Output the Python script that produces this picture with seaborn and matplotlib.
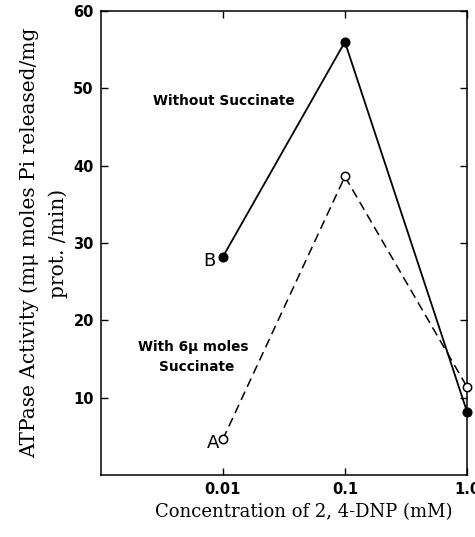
import matplotlib
matplotlib.use("Agg")
import matplotlib.pyplot as plt
import seaborn as sns
import pandas as pd

conc = [0.01, 0.1, 1.0]
without_succ = [28.2, 56.0, 8.2]
with_succ = [4.6, 38.6, 11.4]
xtick_vals = [0.01, 0.1, 1.0]
xtick_labels = ["0.01", "0.1", "1.0"]
ytick_vals = [10, 20, 30, 40, 50, 60]

sns.set_theme(style="ticks")
plt.rcParams['font.family'] = ['DejaVu Sans']
plt.rcParams.update({"text.color": "black", "axes.labelcolor": "black",
                     "xtick.color": "black", "ytick.color": "black"})

fig = plt.figure(figsize=(4.75, 5.37), dpi=100)
ax = fig.add_axes([100.7/475, 1 - 475/537, (467-100.7)/475, (475-11)/537])

df_b = pd.DataFrame({"conc": conc, "act": without_succ})
df_a = pd.DataFrame({"conc": conc, "act": with_succ})

sns.lineplot(data=df_b, x="conc", y="act", ax=ax, color="black", lw=1.3,
             marker="o", markersize=6.5, markerfacecolor="black",
             markeredgecolor="black", clip_on=False, zorder=3)
sns.lineplot(data=df_a, x="conc", y="act", ax=ax, color="black", lw=1.1,
             linestyle=(0, (6, 3.5)), marker="o", markersize=6,
             markerfacecolor="white", markeredgecolor="black",
             markeredgewidth=1.1, clip_on=False, zorder=3)

ax.set_xscale("log")
ax.set_xlim(0.001, 1.0)
ax.set_ylim(0, 60)
ax.set_xticks(xtick_vals)
ax.set_xticklabels(xtick_labels)
ax.xaxis.set_minor_locator(matplotlib.ticker.NullLocator())
ax.set_yticks(ytick_vals)
ax.set_yticklabels([str(v) for v in ytick_vals])
ax.tick_params(direction="in", length=5, width=1.0, top=True, right=True,
               labelsize=10.5, pad=5)
for lab in ax.get_xticklabels() + ax.get_yticklabels():
    lab.set_fontweight("bold")
for s in ax.spines.values():
    s.set_linewidth(1.1)
    s.set_color("black")

serif = ['DejaVu Serif']
ax.set_xlabel("Concentration of 2, 4-DNP (mM)", family=serif, fontsize=13)
ax.xaxis.set_label_coords(0.555, -0.061)
ax.set_ylabel("ATPase Activity (m\u03bc moles Pi released/mg\nprot. /min)",
              family=serif, fontsize=14.5, linespacing=1.55)
ax.yaxis.set_label_coords(-0.09, 0.5)

ax.text(0.00268, 48.3, "Without Succinate", fontsize=9.8, fontweight="bold",
        ha="left", va="center")
ax.text(0.0077, 27.7, "B", fontsize=13, ha="center", va="center")
ax.text(0.00202, 16.5, "With 6\u03bc moles", fontsize=9.8, fontweight="bold",
        ha="left", va="center")
ax.text(0.00301, 14.0, "Succinate", fontsize=9.8, fontweight="bold",
        ha="left", va="center")
ax.text(0.0083, 4.2, "A", fontsize=13, ha="center", va="center")

fig.savefig("out.png", dpi=100)
